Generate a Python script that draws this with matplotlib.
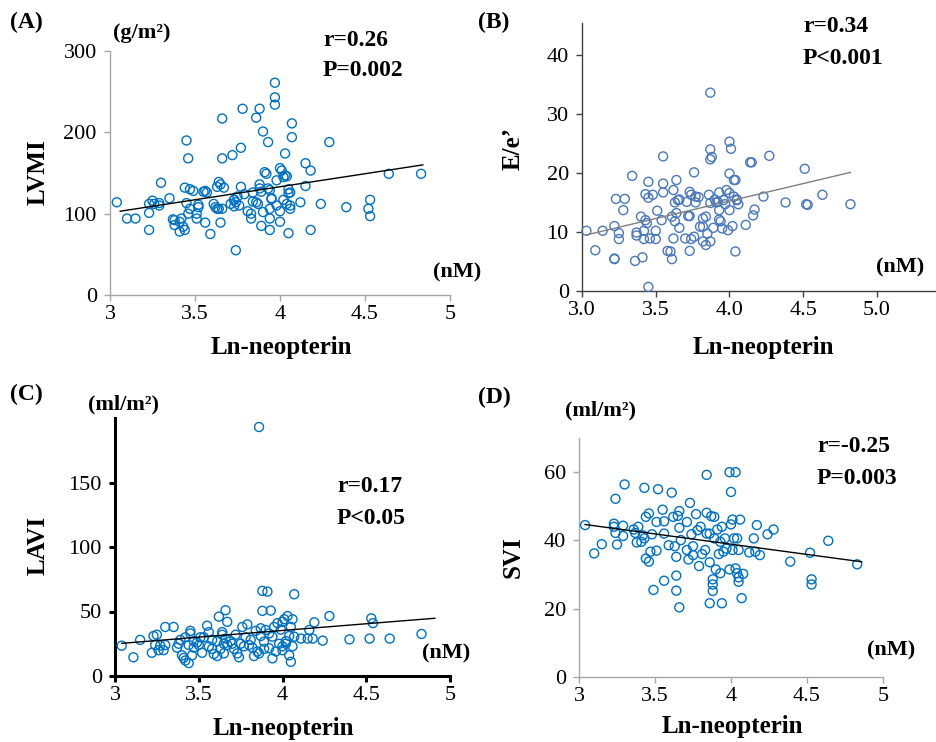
import numpy as np
import matplotlib
matplotlib.use("Agg")
import matplotlib.pyplot as plt

plt.rcParams['font.family'] = ['Liberation Serif', 'DejaVu Serif']

W, H = 937, 742

# ---- data ----
# (A) LVMI vs Ln-neopterin
lvmi_x = [3.04, 3.10, 3.15, 3.23, 3.23, 3.23, 3.25, 3.26, 3.29, 3.29, 3.30, 3.35, 3.37, 3.38, 3.38,
          3.41, 3.42, 3.43, 3.44, 3.45, 3.44, 3.45, 3.46, 3.46, 3.47, 3.49, 3.47, 3.51, 3.51, 3.52,
          3.52, 3.55, 3.56, 3.56, 3.59, 3.61, 3.62, 3.63, 3.64, 3.65, 3.64, 3.66, 3.65, 3.66, 3.66,
          3.67, 3.71, 3.72, 3.73, 3.73, 3.74, 3.74, 3.75, 3.77, 3.77, 3.78, 3.79, 3.81, 3.83, 3.83,
          3.84, 3.86, 3.86, 3.87, 3.88, 3.88, 3.88, 3.89, 3.89, 3.90, 3.90, 3.91, 3.92, 3.93, 3.93,
          3.94, 3.94, 3.94, 3.95, 3.95, 3.97, 3.97, 3.97, 3.98, 4.00, 4.00, 4.00, 4.01, 4.02, 4.02,
          4.03, 4.03, 4.04, 4.04, 4.05, 4.05, 4.05, 4.06, 4.07, 4.07, 4.12, 4.15, 4.15, 4.18, 4.18,
          4.24, 4.29, 4.39, 4.52, 4.53, 4.53, 4.64, 4.83,
          3.41, 3.76, 3.63, 3.98, 4.06, 3.94, 3.84, 4.06, 3.57, 3.73]
lvmi_y = [114, 94, 94, 112, 101, 80, 116, 112, 113, 110, 138, 119, 93, 92, 86,
          78, 94, 84, 80, 190, 132, 113, 168, 100, 130, 128, 106, 100, 94, 111,
          108, 127, 128, 89, 75, 112, 108, 133, 139, 136, 106, 106, 89, 217, 168,
          132, 112, 172, 117, 109, 114, 55, 121, 133, 181, 229, 124, 103, 94, 100,
          126, 218, 114, 112, 136, 229, 131, 127, 85, 201, 102, 151, 149, 188, 131,
          80, 106, 94, 118, 119, 261, 243, 234, 141, 103, 90, 156, 153, 117, 145,
          174, 147, 146, 112, 125, 76, 130, 110, 194, 211, 114, 134, 162, 80, 153,
          112, 188, 108, 106, 117, 97, 149, 149,
          90, 110, 106, 110, 126, 129, 115, 106, 126, 117]
lvmi_fit = [32.0, 5.1]          # slope, intercept
lvmi_fit_x = [3.06, 4.84]

# (B) E/e' vs Ln-neopterin
ee_x = [3.03, 3.09, 3.14, 3.22, 3.22, 3.22, 3.23, 3.25, 3.25, 3.28, 3.29, 3.34, 3.36, 3.37, 3.37,
        3.40, 3.41, 3.42, 3.42, 3.43, 3.43, 3.44, 3.45, 3.45, 3.45, 3.46, 3.48, 3.50, 3.50, 3.51,
        3.54, 3.55, 3.55, 3.55, 3.58, 3.60, 3.61, 3.61, 3.62, 3.62, 3.63, 3.63, 3.64, 3.64, 3.65,
        3.66, 3.66, 3.70, 3.71, 3.72, 3.73, 3.73, 3.73, 3.74, 3.74, 3.76, 3.76, 3.77, 3.77, 3.79,
        3.80, 3.82, 3.82, 3.82, 3.84, 3.84, 3.85, 3.86, 3.87, 3.87, 3.87, 3.87, 3.87, 3.88, 3.89,
        3.90, 3.91, 3.92, 3.93, 3.93, 3.93, 3.94, 3.95, 3.96, 3.97, 3.98, 3.99, 4.00, 4.00, 4.00,
        4.00, 4.01, 4.02, 4.03, 4.03, 4.04, 4.04, 4.05, 4.05, 4.06, 4.11, 4.14, 4.15, 4.16, 4.17,
        4.23, 4.27, 4.38, 4.51, 4.52, 4.53, 4.63, 4.82]
ee_y = [10.2, 6.9, 10.2, 11.0, 5.5, 5.4, 15.6, 9.8, 8.8, 13.7, 15.6, 19.5, 5.1, 9.9, 9.4,
        12.6, 5.7, 10.2, 8.8, 12.0, 16.4, 11.5, 15.8, 18.5, 0.7, 8.9, 16.3, 10.2, 8.8, 13.6,
        12.0, 16.7, 22.8, 18.2, 6.8, 6.7, 12.6, 5.4, 8.9, 17.1, 15.0, 11.8, 13.2, 18.8, 15.4,
        10.7, 15.5, 8.9, 15.1, 12.7, 6.8, 12.7, 16.8, 16.3, 8.8, 20.1, 9.2, 16.0, 15.0, 15.9,
        10.9, 10.9, 12.3, 8.4, 12.6, 7.8, 9.7, 16.3, 24.0, 14.9, 22.3, 33.6, 8.4, 22.7, 10.7,
        15.5, 15.0, 15.1, 16.7, 12.1, 13.7, 11.8, 10.6, 15.4, 14.7, 17.1, 10.3, 25.3, 13.7, 16.6,
        19.9, 24.1, 11.0, 16.0, 18.8, 18.8, 6.7, 15.4, 15.5, 14.7, 11.2, 21.8, 21.8, 12.8, 13.8,
        16.0, 22.9, 15.0, 20.7, 14.7, 14.6, 16.3, 14.7]
ee_fit = [5.92, -8.44]
ee_fit_x = [3.03, 4.82]

# (C) LAVI vs Ln-neopterin
lavi_x = [3.04, 3.11, 3.15, 3.22, 3.23, 3.24, 3.25, 3.26, 3.27, 3.29, 3.30, 3.30, 3.35, 3.37, 3.38,
          3.39, 3.40, 3.41, 3.42, 3.44, 3.42, 3.44, 3.45, 3.45, 3.46, 3.47, 3.49, 3.50, 3.51, 3.52,
          3.53, 3.55, 3.56, 3.56, 3.58, 3.59, 3.61, 3.62, 3.63, 3.64, 3.64, 3.65, 3.65, 3.66, 3.67,
          3.67, 3.69, 3.71, 3.72, 3.73, 3.74, 3.75, 3.76, 3.77, 3.78, 3.79, 3.80, 3.82, 3.83, 3.84,
          3.85, 3.86, 3.86, 3.87, 3.88, 3.88, 3.89, 3.89, 3.90, 3.91, 3.92, 3.93, 3.94, 3.94, 3.95,
          3.96, 3.97, 3.98, 3.99, 4.00, 4.00, 4.01, 4.02, 4.03, 4.04, 4.04, 4.05, 4.05, 4.06, 4.06,
          4.07, 4.07, 4.11, 4.15, 4.16, 4.18, 4.19, 4.24, 4.28, 4.40, 4.52, 4.53, 4.54, 4.64, 4.83,
          3.47, 3.61, 3.70, 3.81, 3.92, 4.02, 3.58, 3.66, 3.87, 4.00]
lavi_y = [23.5, 14.5, 28, 18, 31, 24, 32, 20, 23.5, 20, 24, 38, 38, 22, 25,
          28, 16, 14, 12, 10, 30, 24, 35, 33, 16, 27, 26, 24, 30, 18,
          30, 39, 34, 23, 28, 17, 15.5, 46, 21, 34, 32, 25, 17.5, 51, 42,
          24, 27, 21, 32, 17.5, 14.5, 25, 38, 23, 30, 40, 24, 22, 15.5, 35,
          19, 193, 17.5, 37, 50.5, 66, 21, 26.6, 35.7, 65.4, 21.5, 50.7, 13.7, 30.5, 38,
          19, 41, 25, 36, 23, 42, 44, 25, 46.5, 31, 16, 38, 11, 44, 23,
          63.4, 30.5, 29, 29, 35.7, 29, 41.6, 27.4, 46.5, 28.4, 29, 44.7, 41, 29, 32.6,
          22, 27, 25, 28, 33, 27, 21, 29, 31, 20]
lavi_fit = [10.4, -6.3]
lavi_fit_x = [3.04, 4.91]

# (D) SVI vs Ln-neopterin
svi_x = [3.04, 3.10, 3.15, 3.23, 3.23, 3.24, 3.24, 3.25, 3.29, 3.29, 3.30, 3.36, 3.37, 3.38, 3.39,
         3.41, 3.42, 3.43, 3.43, 3.44, 3.44, 3.46, 3.46, 3.47, 3.49, 3.48, 3.51, 3.51, 3.52, 3.55,
         3.56, 3.56, 3.56, 3.59, 3.61, 3.62, 3.63, 3.64, 3.64, 3.64, 3.65, 3.66, 3.66, 3.66, 3.67,
         3.71, 3.71, 3.72, 3.73, 3.74, 3.75, 3.75, 3.77, 3.78, 3.79, 3.80, 3.81, 3.83, 3.84, 3.84,
         3.84, 3.86, 3.86, 3.86, 3.87, 3.88, 3.88, 3.88, 3.89, 3.89, 3.90, 3.91, 3.92, 3.93, 3.93,
         3.94, 3.94, 3.95, 3.96, 3.97, 3.99, 3.99, 4.00, 4.00, 4.01, 4.01, 4.02, 4.03, 4.03, 4.04,
         4.04, 4.05, 4.05, 4.05, 4.06, 4.07, 4.08, 4.12, 4.15, 4.16, 4.17, 4.19, 4.24, 4.28, 4.39,
         4.52, 4.53, 4.53, 4.64, 4.83]
svi_y = [44.5, 36.2, 38.9, 44.9, 44.0, 52.2, 42.2, 38.8, 44.3, 41.3, 56.4, 43.2, 42.2, 39.4, 44.0,
         39.6, 41.5, 55.4, 40.6, 46.9, 34.7, 33.8, 47.9, 36.7, 25.5, 41.8, 37.0, 45.4, 55.0, 49.0,
         45.6, 28.2, 42.0, 38.6, 54.0, 46.9, 38.3, 25.3, 35.2, 29.7, 47.2, 48.6, 20.4, 43.7, 40.1,
         45.4, 37.2, 34.4, 51.0, 41.8, 35.7, 38.3, 47.7, 43.0, 32.5, 44.0, 36.0, 37.2, 59.2, 48.1,
         42.0, 21.6, 42.0, 33.6, 47.1, 28.6, 27.1, 25.2, 46.9, 40.6, 31.5, 43.2, 36.0, 30.4, 39.6,
         21.6, 44.0, 36.7, 40.6, 37.6, 31.5, 60.0, 54.2, 44.7, 46.1, 37.2, 40.6, 60.0, 31.8, 30.4,
         40.6, 29.2, 37.2, 27.9, 46.1, 23.1, 30.2, 36.5, 40.6, 36.7, 44.5, 35.7, 41.8, 43.2, 33.8,
         36.4, 28.6, 27.1, 39.9, 33.0]
svi_fit = [-6.0, 62.9]
svi_fit_x = [3.04, 4.86]


def fx(px):
    return px / W


def fy(py):
    return 1 - py / H


def box(l, t, r, b):
    return [fx(l), fy(b), fx(r) - fx(l), fy(t) - fy(b)]


fig = plt.figure(figsize=(W / 100, H / 100), dpi=100)

panels = [
    # x, y, fit, fit x, rect, ylim, yticks, xlim, xticks, xticklabels, marker, line, spine
    dict(x=lvmi_x, y=lvmi_y, fit=lvmi_fit, fx=lvmi_fit_x, rect=box(110, 51, 450, 295),
         ylim=(0, 300), yt=[0, 100, 200, 300], xlim=(3, 5), xt=[3, 3.5, 4, 4.5, 5],
         xtl=['3', '3.5', '4', '4.5', '5'], mc='#0070c0', lc='black', sc='#a6a6a6', sw=1.0),
    dict(x=ee_x, y=ee_y, fit=ee_fit, fx=ee_fit_x, rect=box(582, 23, 936, 291),
         ylim=(0, 45.4), yt=[0, 10, 20, 30, 40], xlim=(3, 5.4), xt=[3, 3.5, 4, 4.5, 5],
         xtl=['3.0', '3.5', '4.0', '4.5', '5.0'], mc='#4a78bd', lc='#7f7f7f', sc='#404040', sw=1.0),
    dict(x=lavi_x, y=lavi_y, fit=lavi_fit, fx=lavi_fit_x, rect=box(115, 418, 450, 676),
         ylim=(0, 200), yt=[0, 50, 100, 150], xlim=(3, 5), xt=[3, 3.5, 4, 4.5, 5],
         xtl=['3', '3.5', '4', '4.5', '5'], mc='#0070c0', lc='black', sc='black', sw=2.2),
    dict(x=svi_x, y=svi_y, fit=svi_fit, fx=svi_fit_x, rect=box(579, 438, 883, 677),
         ylim=(0, 70), yt=[0, 20, 40, 60], xlim=(3, 5), xt=[3, 3.5, 4, 4.5, 5],
         xtl=['3', '3.5', '4', '4.5', '5'], mc='#0070c0', lc='black', sc='#a6a6a6', sw=1.0),
]

for p in panels:
    ax = fig.add_axes(p['rect'])
    ax.scatter(p['x'], p['y'], s=42, facecolors='none', edgecolors=p['mc'], linewidths=1.0,
               clip_on=False, zorder=3)
    xx = np.array(p['fx'])
    ax.plot(xx, p['fit'][0] * xx + p['fit'][1], color=p['lc'], lw=1.0, zorder=4)
    ax.set_xlim(*p['xlim'])
    ax.set_ylim(*p['ylim'])
    ax.set_yticks(p['yt'])
    ax.set_xticks(p['xt'])
    ax.set_xticklabels(p['xtl'])
    for s in ['top', 'right']:
        ax.spines[s].set_visible(False)
    for s in ['left', 'bottom']:
        ax.spines[s].set_color(p['sc'])
        ax.spines[s].set_linewidth(p['sw'])
    ax.tick_params(direction='out', length=4.5, width=p['sw'], color=p['sc'],
                   labelsize=16, pad=3)
    ax.tick_params(axis='y', pad=5)
    ax.patch.set_alpha(0)

bold = dict(fontweight='bold', color='black')

# panel letters
fig.text(fx(10), fy(22), '(A)', fontsize=17, va='center', ha='left', **bold)
fig.text(fx(478), fy(22), '(B)', fontsize=17, va='center', ha='left', **bold)
fig.text(fx(10), fy(394), '(C)', fontsize=17, va='center', ha='left', **bold)
fig.text(fx(478), fy(397), '(D)', fontsize=17, va='center', ha='left', **bold)

# units
fig.text(fx(113), fy(33), '(g/m²)', fontsize=16, va='center', ha='left', **bold)
fig.text(fx(88), fy(404), '(ml/m²)', fontsize=16, va='center', ha='left', **bold)
fig.text(fx(565), fy(410), '(ml/m²)', fontsize=16, va='center', ha='left', **bold)
fig.text(fx(433), fy(272), '(nM)', fontsize=16, va='center', ha='left', **bold)
fig.text(fx(876), fy(267), '(nM)', fontsize=16, va='center', ha='left', **bold)
fig.text(fx(422), fy(653), '(nM)', fontsize=16, va='center', ha='left', **bold)
fig.text(fx(867), fy(650), '(nM)', fontsize=16, va='center', ha='left', **bold)

# stats
fig.text(fx(323), fy(40), 'r=0.26', fontsize=17, va='center', ha='left', **bold)
fig.text(fx(323), fy(70), 'P=0.002', fontsize=17, va='center', ha='left', **bold)
fig.text(fx(803), fy(27), 'r=0.34', fontsize=17, va='center', ha='left', **bold)
fig.text(fx(803), fy(58), 'P<0.001', fontsize=17, va='center', ha='left', **bold)
fig.text(fx(337), fy(487), 'r=0.17', fontsize=17, va='center', ha='left', **bold)
fig.text(fx(337), fy(518), 'P<0.05', fontsize=17, va='center', ha='left', **bold)
fig.text(fx(817), fy(447), 'r=-0.25', fontsize=17, va='center', ha='left', **bold)
fig.text(fx(817), fy(478), 'P=0.003', fontsize=17, va='center', ha='left', **bold)

# axis titles
fig.text(fx(38), fy(172), 'LVMI', fontsize=18, rotation=90, va='center', ha='center', **bold)
fig.text(fx(513), fy(148), 'E/e\u2019', fontsize=18, rotation=90, va='center', ha='center', **bold)
fig.text(fx(38), fy(545), 'LAVI', fontsize=18, rotation=90, va='center', ha='center', **bold)
fig.text(fx(513), fy(557), 'SVI', fontsize=18, rotation=90, va='center', ha='center', **bold)
fig.text(fx(281), fy(348), 'Ln-neopterin', fontsize=18, va='center', ha='center', **bold)
fig.text(fx(763), fy(348), 'Ln-neopterin', fontsize=18, va='center', ha='center', **bold)
fig.text(fx(283), fy(728), 'Ln-neopterin', fontsize=18, va='center', ha='center', **bold)
fig.text(fx(732), fy(727), 'Ln-neopterin', fontsize=18, va='center', ha='center', **bold)

fig.savefig('out.png', dpi=100)
